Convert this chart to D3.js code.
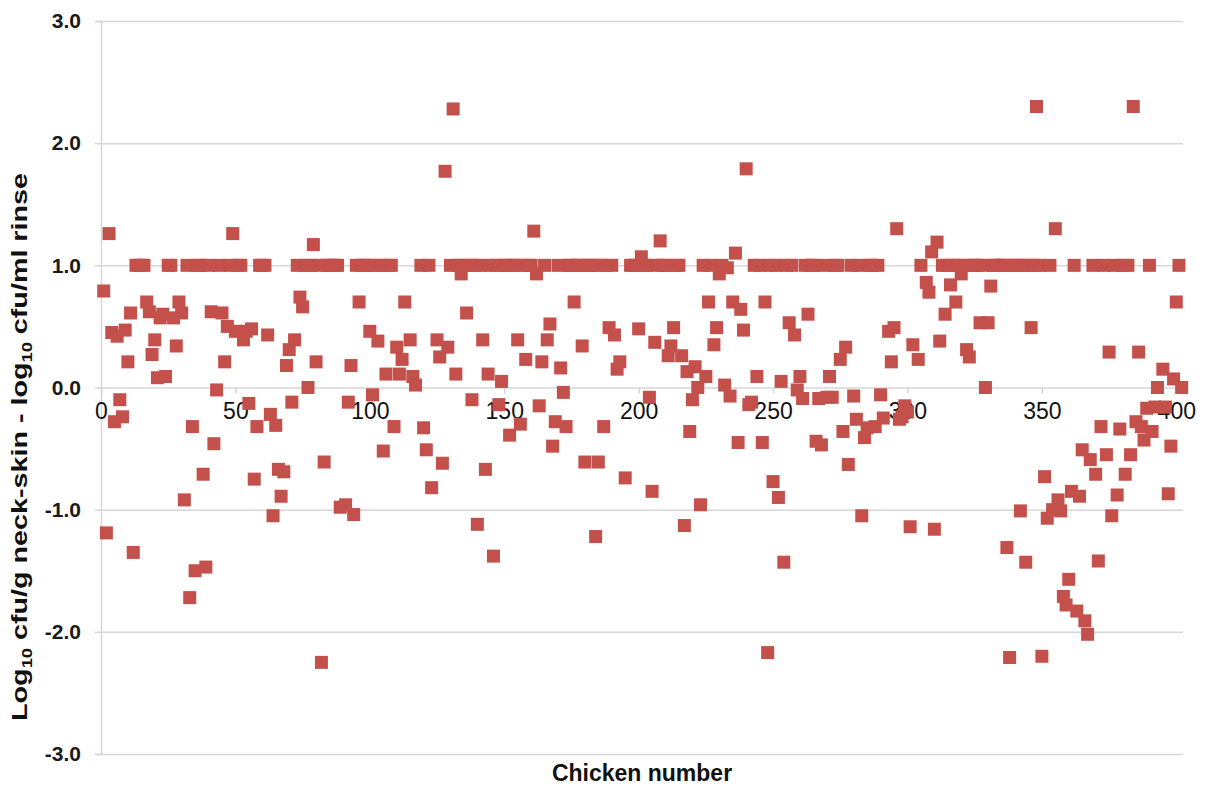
<!DOCTYPE html>
<html>
<head>
<meta charset="utf-8">
<script src="https://cdn.jsdelivr.net/npm/d3@7"></script>
<style>
  html, body { margin: 0; padding: 0; background: #fff; }
  svg { display: block; }
  text { font-family: "Liberation Sans", Arial, sans-serif; }
</style>
</head>
<body>
<svg id="chart" width="1208" height="787"></svg>
<script>
// Chicken numbers and the matching log10 difference (neck-skin minus rinse)
const chickenNo = [
  1,2,3,4,5,6,7,8,9,10,11,12,13,14,15,16,17,18,19,20,
  21,22,23,24,25,26,27,28,29,30,31,32,33,34,35,36,37,38,39,40,
  41,42,43,44,45,46,47,48,49,50,51,52,53,54,55,56,57,58,59,60,
  61,62,63,64,65,66,67,68,69,70,71,72,73,74,75,76,77,78,79,80,
  81,82,83,84,85,86,87,88,89,91,92,93,94,95,96,97,98,99,100,
  101,102,103,104,105,106,107,108,109,110,111,112,113,115,116,117,119,120,
  121,122,123,125,126,127,128,129,130,131,132,133,134,135,136,137,138,139,140,
  141,142,143,144,145,146,147,148,149,150,151,152,153,154,155,156,157,158,159,160,
  161,162,163,164,165,166,167,168,169,170,171,172,173,174,175,176,177,178,179,180,
  181,182,183,184,185,186,187,188,189,190,191,192,193,195,197,198,199,200,
  201,202,203,204,205,206,207,208,209,210,211,212,213,214,215,216,217,218,219,220,
  221,222,223,224,225,226,227,228,229,230,231,232,233,234,235,236,237,238,239,240,
  241,242,243,244,245,246,247,248,249,250,251,252,253,254,255,256,257,258,259,260,
  261,262,263,264,265,266,267,268,269,270,271,272,273,274,275,276,277,278,279,280,
  281,282,283,284,285,286,287,288,289,290,291,293,294,295,296,297,298,299,300,
  301,302,304,305,307,308,309,310,311,312,313,314,315,316,317,318,319,320,
  321,322,323,324,325,326,327,328,329,330,331,332,333,334,335,336,337,338,339,340,
  341,342,343,344,345,346,347,348,349,350,351,352,353,354,355,356,357,358,359,360,
  361,362,363,364,365,366,367,368,369,370,371,372,373,374,375,376,377,378,379,380,
  381,382,383,384,385,386,387,388,389,390,391,392,393,395,396,397,398,399,400,
  401,402
];
const logDiff = [
  0.79,-1.19,1.26,0.45,-0.28,0.42,-0.10,-0.24,0.47,0.21,0.61,-1.35,1,1,1,1,0.70,0.62,0.27,0.39,
  0.08,0.57,0.60,0.09,1,1,0.57,0.34,0.70,0.61,-0.92,1,-1.72,-0.32,-1.50,1,1,-0.71,-1.47,1,
  0.62,-0.46,-0.02,1,0.61,0.21,0.50,1,1.26,0.46,1,1,0.39,0.46,-0.13,0.48,-0.75,-0.32,1,1,
  1,0.43,-0.22,-1.05,-0.31,-0.67,-0.89,-0.69,0.18,0.31,-0.12,0.39,1,0.74,0.66,1,0.0,1,1.17,0.21,
  1,-2.25,-0.61,1,1,1,1,1,-0.98,-0.96,-0.12,0.18,-1.04,1,0.70,1,1,1,0.46,
  -0.06,1,0.38,1,-0.52,0.11,1,1,-0.32,0.33,0.11,0.23,0.70,0.39,0.09,0.02,1,-0.33,
  -0.51,1,-0.82,0.39,0.25,-0.62,1.77,0.33,1,2.28,0.11,1,0.93,1,0.61,1,-0.10,1,-1.12,
  1,0.39,-0.67,0.11,1,-1.38,1,-0.14,0.05,1,1,-0.39,1,1,0.39,-0.30,1,0.23,1,1,
  1.28,0.93,-0.15,0.21,1,0.39,0.52,-0.48,-0.28,1,0.16,-0.04,-0.32,1,1,0.70,1,1,0.34,-0.61,
  1,1,1,-1.22,-0.61,1,-0.32,1,0.49,1,0.43,0.15,0.21,-0.74,1,1,1,0.48,
  1.07,1,1,-0.08,-0.85,0.37,1,1.20,1,1,0.26,0.34,0.49,1,1,0.26,-1.13,0.13,-0.36,-0.10,
  0.17,0.0,-0.96,1,0.09,0.70,1,0.35,0.49,0.93,1,0.02,0.98,-0.07,0.70,1.10,-0.45,0.64,0.47,1.79,
  -0.14,-0.12,1,0.09,1,-0.45,0.70,-2.17,1,-0.77,1,-0.90,0.05,-1.43,1,0.53,1,0.43,-0.02,0.09,
  -0.09,1,0.60,1,1,-0.44,-0.09,-0.47,1,-0.08,0.09,-0.08,1,1,0.23,-0.36,0.33,-0.63,1,-0.07,
  -0.26,1,-1.05,-0.41,-0.33,1,1,-0.32,1,-0.06,-0.25,0.46,0.21,0.49,1.30,-0.26,-0.24,-0.15,-0.20,
  -1.14,0.35,0.23,1,0.86,0.78,1.11,-1.16,1.19,0.38,1,0.60,1,0.84,1,0.70,1,0.93,
  1,0.31,0.25,1,1,1,0.53,1,0.0,0.53,0.83,1,1,1,1,1,-1.31,-2.21,1,1,
  1,-1.01,1,-1.43,1,0.49,1,2.30,1,-2.20,-0.73,-1.07,1,-1.00,1.30,-0.92,-1.01,-1.71,-1.78,-1.57,
  -0.85,1,-1.83,-0.89,-0.51,-1.91,-2.02,-0.59,1,-0.71,-1.42,-0.32,1,-0.55,0.29,-1.05,1,-0.88,-0.34,1,
  -0.71,1,-0.55,2.30,-0.28,0.29,-0.32,-0.43,-0.17,1,-0.36,-0.16,0.0,0.15,-0.16,-0.87,-0.48,0.07,0.70,
  1,0.0
];
const xTicks = [0, 50, 100, 150, 200, 250, 300, 350, 400];
const yTicks = [-3, -2, -1, 0, 1, 2, 3];

const svg = d3.select("#chart");
const plot = { left: 101, right: 1183, top: 21, bottom: 754 };

const x = d3.scaleLinear().domain([0, 402.5]).range([plot.left, plot.right]);
const y = d3.scaleLinear().domain([-3, 3]).range([plot.bottom, plot.top]);

const gridColor = "#d6d6d6";

// horizontal gridlines with short ticks on the left; plain hyphen for negatives
const yAxis = d3.axisLeft(y).tickValues(yTicks).tickSize(6).tickPadding(14)
  .tickFormat(d => d.toFixed(1));
const gy = svg.append("g").attr("transform", `translate(${plot.left},0)`).call(yAxis);
gy.select(".domain").attr("stroke", gridColor).attr("stroke-width", 1.5);
gy.selectAll(".tick line").attr("stroke", gridColor).attr("stroke-width", 1.5);
gy.selectAll(".tick").append("line")
  .attr("x1", 0).attr("x2", plot.right - plot.left)
  .attr("stroke", gridColor).attr("stroke-width", 1.5);
gy.selectAll(".tick text")
  .attr("fill", "#1a1a1a").attr("font-size", 21).attr("font-weight", "bold")
  .attr("font-family", "Liberation Sans, Arial, sans-serif");

// x axis drawn along the zero line
const xAxis = d3.axisBottom(x).tickValues(xTicks).tickSize(6).tickPadding(9)
  .tickFormat(d3.format("d"));
const gx = svg.append("g").attr("transform", `translate(0,${y(0)})`).call(xAxis);
gx.select(".domain").remove();
gx.selectAll(".tick line").attr("stroke", gridColor).attr("stroke-width", 1.5);
gx.selectAll(".tick text")
  .attr("fill", "#111").attr("font-size", 23)
  .attr("font-family", "Liberation Sans, Arial, sans-serif");

// markers
const size = 13;
svg.append("g").selectAll("rect")
  .data(d3.zip(chickenNo, logDiff))
  .join("rect")
  .attr("x", d => x(d[0]) - size / 2)
  .attr("y", d => y(d[1]) - size / 2)
  .attr("width", size).attr("height", size)
  .attr("fill", "#c4504b");

// axis titles
svg.append("text")
  .attr("x", (plot.left + plot.right) / 2).attr("y", 781)
  .attr("text-anchor", "middle")
  .attr("font-size", 23).attr("font-weight", "bold").attr("fill", "#111")
  .text("Chicken number");

const yt = svg.append("text")
  .attr("transform", `translate(27,447) rotate(-90)`)
  .attr("text-anchor", "middle")
  .attr("font-size", 22).attr("font-weight", "bold").attr("fill", "#111")
  .attr("textLength", 548).attr("lengthAdjust", "spacingAndGlyphs");
yt.append("tspan").text("Log");
yt.append("tspan").attr("font-size", 14).attr("dy", 5).text("10");
yt.append("tspan").attr("dy", -5).text(" cfu/g neck-skin - log");
yt.append("tspan").attr("font-size", 14).attr("dy", 5).text("10");
yt.append("tspan").attr("dy", -5).text(" cfu/ml rinse");
</script>
</body>
</html>
